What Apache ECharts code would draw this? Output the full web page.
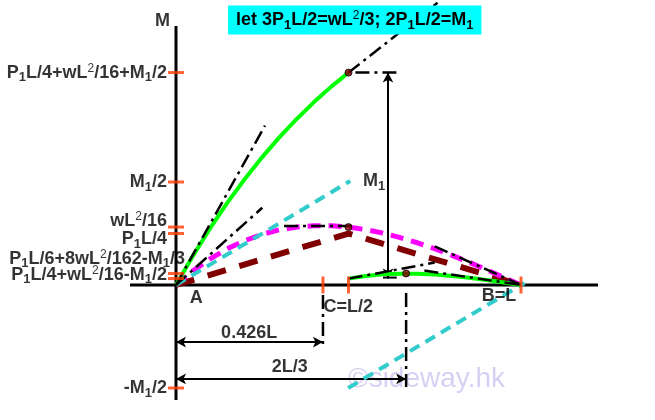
<!DOCTYPE html>
<html><head><meta charset="utf-8">
<script src="https://cdn.jsdelivr.net/npm/echarts@6/dist/echarts.min.js"></script>
<style>html,body{margin:0;padding:0;background:#fff}#c{width:655px;height:420px}</style>
</head><body><div id="c"></div>
<script>
// x in units of L (A = 0, B = 1); M in units of M1 (P1L = M1 = 1, wL^2 = 4.5)
const greenLeft  = [[0,0],[0.05,0.144],[0.1,0.278],[0.15,0.402],[0.2,0.516],[0.25,0.621],[0.3,0.718],[0.35,0.806],[0.4,0.888],[0.45,0.963],[0.5,1.031]];
const greenRight = [[0.5,0.031],[0.55,0.044],[0.6,0.052],[0.65,0.055],[0.7,0.055],[0.75,0.051],[0.8,0.044],[0.85,0.035],[0.9,0.024],[0.95,0.012],[1,0]];
const magentaCurve = [[0,0],[0.05,0.070],[0.1,0.128],[0.15,0.177],[0.2,0.216],[0.25,0.246],[0.3,0.268],[0.35,0.281],[0.4,0.288],[0.45,0.288],[0.5,0.281],[0.55,0.269],[0.6,0.252],[0.65,0.230],[0.7,0.205],[0.75,0.176],[0.8,0.144],[0.85,0.110],[0.9,0.074],[0.95,0.037],[1,0]];
const brownTriangle = [[0,0],[0.5,0.25],[1,0]];
const cyanLeft  = [[0,0],[0.505,0.505]];
const cyanRight = [[0.499,-0.5],[1.01,0.01]];
const tangentLines = [
  [[0,0],[0.258,0.774]],
  [[0,0],[0.25,0.375]],
  [[0.313,0.287],[0.525,0.287]],
  [[0.5,1.031],[0.758,1.370]],
  [[0.52,1.031],[0.64,1.031]],
  [[0.5,0.031],[0.75,0.109]],
  [[0.75,0.1875],[1,0]],
  [[0.72,0.07],[1,0]],
  [[0.426,-0.049],[0.426,-0.291]],
  [[0.667,-0.039],[0.667,-0.495]]
];
const dimensionArrows = [
  [[0,-0.277],[0.426,-0.277]],
  [[0,-0.456],[0.667,-0.456]],
  [[0.6145,1.031],[0.6145,0.031]]
];
const dimensionFoot = [[0.6,0.036],[0.64,0.036]];
const keyPoints = [[0.5,1.031],[0.5,0.281],[0.667,0.056]];
const xTickValues = [0.426, 0.5, 1];
const yTickValues = [1.03125, 0.5, 0.28125, 0.25, 0.0556, 0.03125, -0.5];
const yTickLabels = [
  'P{s|1}L/4+wL{p|2}/16+M{s|1}/2',
  'M{s|1}/2',
  'wL{p|2}/16',
  'P{s|1}L/4',
  'P{s|1}L/6+8wL{p|2}/162-M{s|1}/3',
  'P{s|1}L/4+wL{p|2}/16-M{s|1}/2',
  '-M{s|1}/2'
];
const yLabelNudge = [[0,0], [0,0], [0,-6], [0,6], [18,-15], [0,-4], [0,0]];
const annotations = [
  {text:'M', at:[-0.039, 1.282]},
  {text:'A', at:[0.059, -0.063]},
  {text:'C=L/2', at:[0.499, -0.107]},
  {text:'B=L', at:[0.936, -0.053]},
  {text:'0.426L', at:[0.212, -0.233]},
  {text:'2L/3', at:[0.330, -0.398]},
  {text:'M{s|1}', at:[0.574, 0.505]}
];
const xAxisSpan = [[-0.1333,0],[1.2232,0]];
const yAxisSpan = [[0,1.2573],[0,-0.5583]];
const titleText = 'let 3P{s|1}L/2=wL{p|2}/3; 2P{s|1}L/2=M{s|1}';

const FONT = 'Liberation Sans, Arial, sans-serif';
const rich = {
  s: {fontSize:13, fontWeight:'bold', fontFamily:FONT, color:'#000', padding:[10,0,0,0], lineHeight:14},
  p: {fontSize:12, fontWeight:'normal', fontFamily:FONT, color:'#000', padding:[0,0,8,0], lineHeight:12}
};
const baseText = {fontSize:18, fontWeight:'bold', fontFamily:FONT, color:'#000', lineHeight:20, rich};
const dashDot = [14,5,3,5];

function line(data, color, width, type, z) {
  return {type:'line', data, symbol:'none', silent:true, z,
    lineStyle:{color, width, type, cap:'butt'}};
}

const series = [];
series.push(Object.assign(line(xAxisSpan,'#000',3,'solid',3), {
  markLine:{silent:true, symbol:['arrow','arrow'], symbolSize:[8,10], animation:false,
    label:{show:false}, lineStyle:{color:'#000', width:2, type:'solid'},
    data: dimensionArrows.map(d => [{coord:d[0]},{coord:d[1]}])}
}));
series.push(line(yAxisSpan,'#000',3,'solid',3));
series.push(line(brownTriangle,'#800000',6,[19,14],4));
series.push(line(magentaCurve,'#ff00ff',5,[13,8],5));
series.push(line(cyanLeft,'#33cccc',4,[11,7],6));
series.push(line(cyanRight,'#33cccc',4,[11,7],6));
series.push(line(greenLeft,'#00ff00',4,'solid',7));
series.push(line(greenRight,'#00ff00',4,'solid',7));
tangentLines.forEach(seg => series.push(line(seg,'#000',2.5,dashDot,8)));
series.push(line(dimensionFoot,'#000',2,'solid',8));
series.push({type:'scatter', silent:true, z:10, symbol:'circle', symbolSize:7,
  itemStyle:{color:'#800000', borderColor:'#000', borderWidth:1}, data:keyPoints});
series.push({type:'scatter', silent:true, z:9, symbol:'rect', symbolSize:[3,17],
  itemStyle:{color:'#ff3c00'}, data:xTickValues.map(v => [v, 0])});
series.push({type:'scatter', silent:true, z:9, symbol:'rect', symbolSize:[16,3],
  itemStyle:{color:'#ff3c00'},
  data: yTickValues.map((v,i) => ({value:[0,v], label:{offset:yLabelNudge[i]}})),
  label:Object.assign({show:true, position:'left', distance:1,
    formatter: p => yTickLabels[p.dataIndex]}, baseText)});
series.push({type:'scatter', silent:true, z:11, symbolSize:0, clip:false,
  data: annotations.map(a => a.at),
  label:Object.assign({show:true, position:'inside',
    formatter: p => annotations[p.dataIndex].text}, baseText)});

const chart = echarts.init(document.getElementById('c'));
chart.setOption({
  animation:false,
  backgroundColor:'#fff',
  title:{text:titleText, left:228, top:7, z:50, zlevel:0, backgroundColor:'#00ffff', padding:[3,8,3,8],
    textStyle:baseText},
  grid:{left:0, right:0, top:0, bottom:0, containLabel:false},
  xAxis:{type:'value', show:false, min:-0.51014, max:1.38841},
  yAxis:{type:'value', show:false, min:-0.65534, max:1.38350},
  graphic:[{type:'text', z:0, silent:true, style:{text:'©sideway.hk', x:348, y:379,
    font:'28px "Liberation Sans", Arial, sans-serif', fill:'#d8d0f4', verticalAlign:'middle'}}],
  series
});
</script></body></html>
